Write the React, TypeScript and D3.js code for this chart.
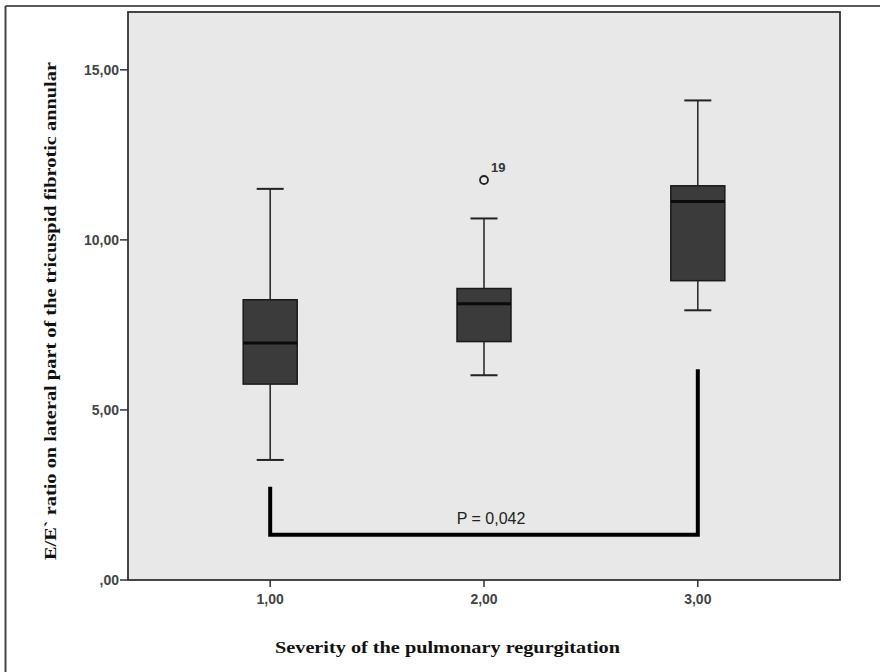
import React from "react";
import * as d3 from "d3";

const categories = [1, 2, 3];
const categoryLabels = ["1,00", "2,00", "3,00"];
const whiskerLow = [3.53, 6.02, 7.93];
const q1 = [5.76, 7.01, 8.8];
const median = [6.97, 8.12, 11.13];
const q3 = [8.24, 8.57, 11.59];
const whiskerHigh = [11.5, 10.63, 14.1];
const outliers = [{ group: 2, value: 11.76, label: "19" }];
const yTicks = [0, 5, 10, 15];
const yTickLabels = [",00", "5,00", "10,00", "15,00"];
const bracket = { from: 1, to: 3, leftTop: 2.74, rightTop: 6.2, level: 1.33, label: "P = 0,042" };

const W = 880;
const H = 672;
const plot = { left: 128, right: 840, top: 12, bottom: 580 };

export default function App() {
  const x = d3.scaleLinear().domain([0.335, 3.665]).range([plot.left, plot.right]);
  const y = d3.scaleLinear().domain([0, 16.7]).range([plot.bottom, plot.top]);
  const boxW = 54;
  const capW = 27;
  const sans = "'Liberation Sans', Arial, sans-serif";
  const serif = "'Liberation Serif', 'Times New Roman', serif";
  const bracketPath = d3.line()([
    [x(bracket.from), y(bracket.leftTop)],
    [x(bracket.from), y(bracket.level)],
    [x(bracket.to), y(bracket.level)],
    [x(bracket.to), y(bracket.rightTop)],
  ] as [number, number][]) as string;

  return (
    <svg
      width={W}
      height={H}
      style={{ position: "absolute", left: 0, top: 0, background: "#fff" }}
    >
      {/* outer frame (top + left) */}
      <line x1={5.5} x2={W} y1={6} y2={6} stroke="#222" strokeWidth={1.5} />
      <line x1={5.5} x2={5.5} y1={6} y2={H} stroke="#444" strokeWidth={2} />

      {/* plot area */}
      <rect
        x={plot.left}
        y={plot.top}
        width={plot.right - plot.left}
        height={plot.bottom - plot.top}
        fill="#e8e8e8"
        stroke="#333"
        strokeWidth={1.8}
      />

      {/* y ticks */}
      {yTicks.map((t, i) => (
        <g key={"yt" + i}>
          <line x1={plot.left - 8} x2={plot.left} y1={y(t)} y2={y(t)} stroke="#333" strokeWidth={1.5} />
          <text
            x={plot.left - 9}
            y={y(t)}
            dy="0.35em"
            textAnchor="end"
            fontFamily={sans}
            fontSize={14}
            fontWeight="bold"
            fill="#444"
          >
            {yTickLabels[i]}
          </text>
        </g>
      ))}

      {/* x ticks */}
      {categories.map((c, i) => (
        <g key={"xt" + i}>
          <line x1={x(c)} x2={x(c)} y1={plot.bottom} y2={plot.bottom + 7} stroke="#333" strokeWidth={1.5} />
          <text
            x={x(c)}
            y={604}
            textAnchor="middle"
            fontFamily={sans}
            fontSize={14}
            fontWeight="bold"
            fill="#444"
          >
            {categoryLabels[i]}
          </text>
        </g>
      ))}

      {/* boxes */}
      {categories.map((c, i) => {
        const cx = x(c);
        return (
          <g key={"box" + i}>
            <line x1={cx} x2={cx} y1={y(whiskerHigh[i])} y2={y(q3[i])} stroke="#222" strokeWidth={1.5} />
            <line x1={cx} x2={cx} y1={y(q1[i])} y2={y(whiskerLow[i])} stroke="#222" strokeWidth={1.5} />
            <line x1={cx - capW / 2} x2={cx + capW / 2} y1={y(whiskerHigh[i])} y2={y(whiskerHigh[i])} stroke="#222" strokeWidth={2} />
            <line x1={cx - capW / 2} x2={cx + capW / 2} y1={y(whiskerLow[i])} y2={y(whiskerLow[i])} stroke="#222" strokeWidth={2} />
            <rect
              x={cx - boxW / 2}
              y={y(q3[i])}
              width={boxW}
              height={y(q1[i]) - y(q3[i])}
              fill="#3b3b3b"
              stroke="#1a1a1a"
              strokeWidth={1.5}
            />
            <line x1={cx - boxW / 2} x2={cx + boxW / 2} y1={y(median[i])} y2={y(median[i])} stroke="#0a0a0a" strokeWidth={3} />
          </g>
        );
      })}

      {/* outliers */}
      {outliers.map((o, i) => (
        <g key={"o" + i}>
          <circle cx={x(o.group)} cy={y(o.value)} r={4} fill="none" stroke="#222" strokeWidth={1.8} />
          <text
            x={x(o.group) + 7}
            y={y(o.value) - 8}
            fontFamily={sans}
            fontSize={13}
            fontWeight="bold"
            fill="#333"
          >
            {o.label}
          </text>
        </g>
      ))}

      {/* significance bracket */}
      <path d={bracketPath} fill="none" stroke="#000" strokeWidth={4} />
      <text
        x={491}
        y={y(bracket.level) - 11}
        textAnchor="middle"
        fontFamily={sans}
        fontSize={16}
        fill="#222"
      >
        {bracket.label}
      </text>

      {/* axis titles */}
      <text
        x={447.5}
        y={653}
        textAnchor="middle"
        fontFamily={serif}
        fontSize={16}
        fontWeight="bold"
        fill="#111"
        textLength={345}
        lengthAdjust="spacingAndGlyphs"
      >
        Severity of the pulmonary regurgitation
      </text>
      <text
        transform={`translate(56, ${311}) rotate(-90)`}
        textAnchor="middle"
        fontFamily={serif}
        fontSize={16}
        fontWeight="bold"
        fill="#111"
        textLength={498}
        lengthAdjust="spacingAndGlyphs"
      >
        E/E` ratio on lateral part of the tricuspid fibrotic annular
      </text>
    </svg>
  );
}
